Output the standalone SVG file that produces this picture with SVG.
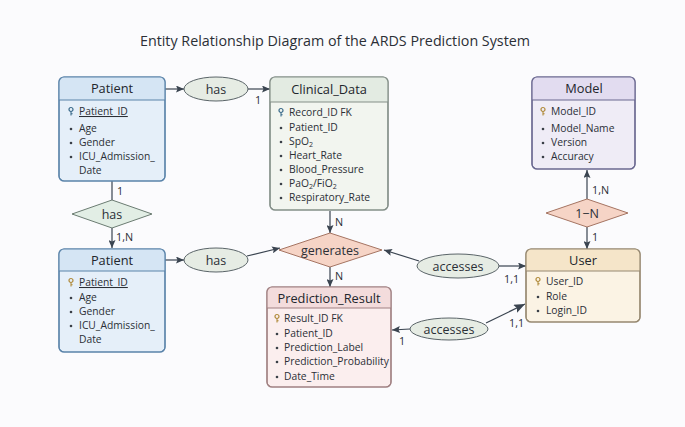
<svg xmlns="http://www.w3.org/2000/svg" width="685" height="427" viewBox="0 0 685 427">
<defs>
<style>
text{font-family:"Open Sans","Noto Sans","Liberation Sans",sans-serif;fill:#2b2f36}
.title{font-size:14.3px}
.hdr{font-size:12.8px;font-weight:500;text-anchor:middle;fill:#22262c}
.it{font-size:10.3px}
.lbl{font-size:10.8px}
.rel{font-size:12.5px;text-anchor:middle}
.con{stroke:#3a4450;stroke-width:1.2;fill:none}
.sep{stroke-width:1}
.ell{fill:#e6ece4;stroke:#5a6468;stroke-width:1}
.dgreen{fill:#e2eee5;stroke:#6b7c72;stroke-width:1}
.dsalmon{fill:#f6d4c6;stroke:#a57462;stroke-width:1}
.bul{fill:#3a3f47}
</style>
<marker id="ah" markerUnits="userSpaceOnUse" markerWidth="9" markerHeight="7" refX="8" refY="3.5" orient="auto">
<path d="M0,0 L8,3.5 L0,7 L1.5,3.5 z" fill="#3a4450"/>
</marker>
<marker id="ahb" markerUnits="userSpaceOnUse" markerWidth="12" markerHeight="9" refX="11" refY="4.5" orient="auto">
<path d="M0,0 L11,4.5 L0,9 L2,4.5 z" fill="#3a4450"/>
</marker>
<g id="keyT"><circle cx="0" cy="-5.5" r="2" fill="none" stroke="#3a6a8a" stroke-width="1.2"/><path d="M0,-3.5 V0.5 M0,-1.2 H1.6" stroke="#3a6a8a" stroke-width="1.1"/></g>
<g id="keyG"><circle cx="0" cy="-5.5" r="2" fill="none" stroke="#b08a3a" stroke-width="1.2"/><path d="M0,-3.5 V0.5 M0,-1.2 H1.6" stroke="#b08a3a" stroke-width="1.1"/></g>
</defs>
<rect width="685" height="427" fill="#fbfbfd"/>
<text class="title" x="335" y="46" text-anchor="middle">Entity Relationship Diagram of the ARDS Prediction System</text>

<g id="connectors">
<line class="con" x1="165" y1="89" x2="184" y2="89" marker-end="url(#ah)"/>
<line class="con" x1="248" y1="89" x2="270" y2="89" marker-end="url(#ah)"/>
<text class="lbl" x="255" y="104">1</text>
<line class="con" x1="112" y1="181" x2="112" y2="200"/>
<text class="lbl" x="117" y="195">1</text>
<line class="con" x1="112" y1="228" x2="112" y2="248" marker-end="url(#ah)"/>
<text class="lbl" x="116" y="241">1,N</text>
<line class="con" x1="165" y1="260" x2="184" y2="260" marker-end="url(#ah)"/>
<line class="con" x1="247" y1="256" x2="280" y2="248" marker-end="url(#ah)"/>
<line class="con" x1="330" y1="211" x2="330" y2="233" marker-end="url(#ah)"/>
<text class="lbl" x="335" y="226">N</text>
<line class="con" x1="330" y1="267" x2="330" y2="287" marker-end="url(#ah)"/>
<text class="lbl" x="335" y="280">N</text>
<line class="con" x1="419" y1="261" x2="384" y2="250" marker-end="url(#ah)"/>
<line class="con" x1="499" y1="266" x2="526" y2="266" marker-end="url(#ah)"/>
<text class="lbl" x="504" y="283">1,1</text>
<line class="con" x1="587" y1="199" x2="587" y2="170" marker-end="url(#ah)"/>
<text class="lbl" x="592" y="194">1,N</text>
<line class="con" x1="587" y1="227" x2="587" y2="249" marker-end="url(#ah)"/>
<text class="lbl" x="592" y="241">1</text>
<line class="con" x1="410" y1="329" x2="392" y2="330" marker-end="url(#ah)"/>
<text class="lbl" x="399" y="345">1</text>
<line class="con" x1="486" y1="323" x2="525" y2="304" marker-end="url(#ahb)"/>
<text class="lbl" x="509" y="327">1,1</text>
</g>

<g id="patient1">
<rect x="59" y="77" width="106" height="104" rx="5" fill="#e5eff9" stroke="#5b84aa" stroke-width="1.2"/>
<path d="M64,77 H160 A5,5 0 0 1 165,82 V100 H59 V82 A5,5 0 0 1 64,77 z" fill="#d5e5f4"/>
<line class="sep" x1="59" y1="100" x2="165" y2="100" stroke="#5b84aa"/>
<rect x="59" y="77" width="106" height="104" rx="5" fill="none" stroke="#5b84aa" stroke-width="1.2"/>
<text class="hdr" x="112" y="93">Patient</text>
<use href="#keyT" x="71" y="115"/>
<text class="it" x="79" y="115" text-decoration="underline">Patient_ID</text>
<circle class="bul" cx="71" cy="129" r="1.3"/><text class="it" x="79" y="132">Age</text>
<circle class="bul" cx="71" cy="143" r="1.3"/><text class="it" x="79" y="146">Gender</text>
<circle class="bul" cx="71" cy="157" r="1.3"/><text class="it" x="79" y="160">ICU_Admission_</text>
<text class="it" x="79" y="174">Date</text>
</g>

<g id="has1">
<ellipse class="ell" cx="216" cy="89" rx="32" ry="12"/>
<text class="rel" x="216" y="93.5">has</text>
</g>

<g id="clinical">
<rect x="270" y="77" width="118" height="133" rx="5" fill="#f2f5ef" stroke="#848f88" stroke-width="1.2"/>
<path d="M275,77 H383 A5,5 0 0 1 388,82 V102 H270 V82 A5,5 0 0 1 275,77 z" fill="#e3ebe2"/>
<line class="sep" x1="270" y1="102" x2="388" y2="102" stroke="#848f88"/>
<rect x="270" y="77" width="118" height="133" rx="5" fill="none" stroke="#848f88" stroke-width="1.2"/>
<text class="hdr" x="329" y="94">Clinical_Data</text>
<use href="#keyT" x="281" y="116"/>
<text class="it" x="289" y="116">Record_ID FK</text>
<circle class="bul" cx="281" cy="128" r="1.3"/><text class="it" x="289" y="131">Patient_ID</text>
<circle class="bul" cx="281" cy="142" r="1.3"/><text class="it" x="289" y="145">SpO<tspan font-size="7" dy="2">2</tspan></text>
<circle class="bul" cx="281" cy="156" r="1.3"/><text class="it" x="289" y="159">Heart_Rate</text>
<circle class="bul" cx="281" cy="170" r="1.3"/><text class="it" x="289" y="173">Blood_Pressure</text>
<circle class="bul" cx="281" cy="184" r="1.3"/><text class="it" x="289" y="187">PaO<tspan font-size="7" dy="2">2</tspan><tspan dy="-2">/FiO</tspan><tspan font-size="7" dy="2">2</tspan></text>
<circle class="bul" cx="281" cy="198" r="1.3"/><text class="it" x="289" y="201">Respiratory_Rate</text>
</g>

<g id="model">
<rect x="532" y="77" width="103" height="92" rx="5" fill="#efecf6" stroke="#6a6890" stroke-width="1.2"/>
<path d="M537,77 H630 A5,5 0 0 1 635,82 V100 H532 V82 A5,5 0 0 1 537,77 z" fill="#e2dcf0"/>
<line class="sep" x1="532" y1="100" x2="635" y2="100" stroke="#6a6890"/>
<rect x="532" y="77" width="103" height="92" rx="5" fill="none" stroke="#6a6890" stroke-width="1.2"/>
<text class="hdr" x="584" y="93">Model</text>
<use href="#keyG" x="543" y="115"/>
<text class="it" x="551" y="115">Model_ID</text>
<circle class="bul" cx="543" cy="129" r="1.3"/><text class="it" x="551" y="132">Model_Name</text>
<circle class="bul" cx="543" cy="143" r="1.3"/><text class="it" x="551" y="146">Version</text>
<circle class="bul" cx="543" cy="157" r="1.3"/><text class="it" x="551" y="160">Accuracy</text>
</g>

<g id="has_rel">
<polygon class="dgreen" points="112,200 152,214 112,228 72,214"/>
<text class="rel" x="112" y="218.5">has</text>
</g>

<g id="patient2">
<rect x="59" y="249" width="106" height="103" rx="5" fill="#e5eff9" stroke="#5b84aa" stroke-width="1.2"/>
<path d="M64,249 H160 A5,5 0 0 1 165,254 V271 H59 V254 A5,5 0 0 1 64,249 z" fill="#d5e5f4"/>
<line class="sep" x1="59" y1="271" x2="165" y2="271" stroke="#5b84aa"/>
<rect x="59" y="249" width="106" height="103" rx="5" fill="none" stroke="#5b84aa" stroke-width="1.2"/>
<text class="hdr" x="112" y="264.5">Patient</text>
<use href="#keyG" x="71" y="286"/>
<text class="it" x="79" y="286" text-decoration="underline">Patient_ID</text>
<circle class="bul" cx="71" cy="298" r="1.3"/><text class="it" x="79" y="301">Age</text>
<circle class="bul" cx="71" cy="312" r="1.3"/><text class="it" x="79" y="315">Gender</text>
<circle class="bul" cx="71" cy="326" r="1.3"/><text class="it" x="79" y="329">ICU_Admission_</text>
<text class="it" x="79" y="343">Date</text>
</g>

<g id="has2">
<ellipse class="ell" cx="216" cy="260" rx="32" ry="12"/>
<text class="rel" x="216" y="264.5">has</text>
</g>

<g id="generates">
<polygon class="dsalmon" points="330,233 382,250 330,267 279,250"/>
<text class="rel" x="330" y="254.5">generates</text>
</g>

<g id="accesses1">
<ellipse class="ell" cx="458" cy="266" rx="41" ry="12"/>
<text class="rel" x="458" y="270.5">accesses</text>
</g>

<g id="rel_1n">
<polygon class="dsalmon" points="587,199 628,213 587,227 546,213"/>
<text class="rel" x="587" y="217.5">1−N</text>
</g>

<g id="user">
<rect x="526" y="249" width="114" height="73" rx="5" fill="#fbf3e4" stroke="#968870" stroke-width="1.2"/>
<path d="M531,249 H635 A5,5 0 0 1 640,254 V271 H526 V254 A5,5 0 0 1 531,249 z" fill="#f5e5c9"/>
<line class="sep" x1="526" y1="271" x2="640" y2="271" stroke="#968870"/>
<rect x="526" y="249" width="114" height="73" rx="5" fill="none" stroke="#968870" stroke-width="1.2"/>
<text class="hdr" x="583" y="264.5">User</text>
<use href="#keyG" x="538" y="285"/>
<text class="it" x="546" y="285">User_ID</text>
<circle class="bul" cx="538" cy="297" r="1.3"/><text class="it" x="546" y="300">Role</text>
<circle class="bul" cx="538" cy="311" r="1.3"/><text class="it" x="546" y="314">Login_ID</text>
</g>

<g id="accesses2">
<ellipse class="ell" cx="449" cy="329" rx="39" ry="11"/>
<text class="rel" x="449" y="333.5">accesses</text>
</g>

<g id="prediction">
<rect x="267" y="287" width="124" height="100" rx="5" fill="#fbeeee" stroke="#a08082" stroke-width="1.2"/>
<path d="M272,287 H386 A5,5 0 0 1 391,292 V308 H267 V292 A5,5 0 0 1 272,287 z" fill="#f3dcdc"/>
<line class="sep" x1="267" y1="308" x2="391" y2="308" stroke="#a08082"/>
<rect x="267" y="287" width="124" height="100" rx="5" fill="none" stroke="#a08082" stroke-width="1.2"/>
<text class="hdr" x="329" y="302.5">Prediction_Result</text>
<use href="#keyG" x="277" y="322"/>
<text class="it" x="284" y="322">Result_ID FK</text>
<circle class="bul" cx="277" cy="334" r="1.3"/><text class="it" x="284" y="337">Patient_ID</text>
<circle class="bul" cx="277" cy="348" r="1.3"/><text class="it" x="284" y="351">Prediction_Label</text>
<circle class="bul" cx="277" cy="362" r="1.3"/><text class="it" x="284" y="365">Prediction_Probability</text>
<circle class="bul" cx="277" cy="377" r="1.3"/><text class="it" x="284" y="380">Date_Time</text>
</g>
</svg>
